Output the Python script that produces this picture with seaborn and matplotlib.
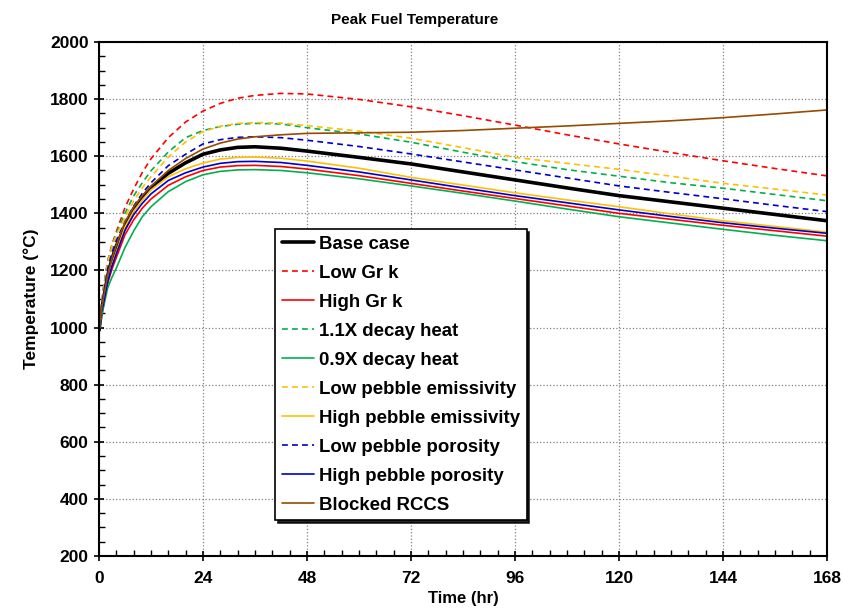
import seaborn as sns
import pandas as pd
import matplotlib.pyplot as plt
from matplotlib.ticker import MultipleLocator

# time points (hr)
hours = [0, 0.5, 1, 2, 3, 4, 6, 8, 10, 12, 16, 20, 24, 28, 32, 36, 42, 48,
         60, 72, 84, 96, 108, 120, 132, 144, 156, 168]

base_case = [990, 1050, 1095, 1180, 1240, 1285, 1355, 1415, 1455, 1490, 1540, 1577, 1607, 1622,
             1631, 1633, 1628, 1618, 1596, 1573, 1545, 1517, 1489, 1462, 1440, 1418, 1396, 1374]
low_gr_k = [990, 1065, 1135, 1232, 1290, 1335, 1420, 1485, 1543, 1591, 1665, 1720, 1758, 1785,
            1803, 1813, 1820, 1818, 1799, 1773, 1742, 1709, 1675, 1643, 1613, 1584, 1557, 1531]
high_gr_k = [990, 1045, 1075, 1155, 1205, 1245, 1325, 1377, 1418, 1450, 1498, 1528, 1550, 1562,
             1567, 1568, 1564, 1555, 1532, 1505, 1478, 1452, 1426, 1400, 1379, 1358, 1339, 1320]
decay_11 = [990, 1065, 1132, 1230, 1285, 1330, 1400, 1461, 1507, 1549, 1615, 1665, 1690, 1704,
            1712, 1715, 1713, 1700, 1678, 1649, 1614, 1581, 1553, 1530, 1507, 1488, 1466, 1444]
decay_09 = [990, 1035, 1068, 1138, 1176, 1208, 1280, 1338, 1388, 1423, 1476, 1511, 1535, 1547,
            1552, 1553, 1550, 1542, 1521, 1496, 1470, 1443, 1415, 1388, 1366, 1344, 1323, 1304]
low_emis = [990, 1062, 1128, 1228, 1283, 1325, 1385, 1443, 1490, 1528, 1597, 1650, 1686, 1705,
            1715, 1718, 1716, 1707, 1688, 1663, 1630, 1596, 1575, 1554, 1530, 1505, 1485, 1464]
high_emis = [990, 1050, 1085, 1165, 1222, 1265, 1352, 1407, 1447, 1482, 1528, 1556, 1576, 1590,
             1596, 1597, 1593, 1583, 1558, 1526, 1499, 1472, 1447, 1423, 1398, 1374, 1354, 1334]
low_poro = [990, 1060, 1115, 1205, 1262, 1305, 1370, 1425, 1470, 1507, 1567, 1607, 1643, 1658,
            1666, 1668, 1665, 1656, 1634, 1608, 1580, 1552, 1524, 1496, 1473, 1451, 1428, 1406]
high_poro = [990, 1048, 1080, 1160, 1215, 1258, 1340, 1395, 1435, 1468, 1515, 1542, 1562, 1575,
             1581, 1582, 1578, 1568, 1545, 1517, 1489, 1462, 1437, 1412, 1389, 1367, 1348, 1330]
blocked_rccs = [990, 1055, 1100, 1185, 1242, 1288, 1370, 1422, 1462, 1495, 1550, 1592, 1625, 1646,
                1660, 1668, 1675, 1680, 1682, 1684, 1690, 1698, 1706, 1715, 1724, 1735, 1748, 1762]

labels = ['Base case', 'Low Gr k', 'High Gr k', '1.1X decay heat', '0.9X decay heat',
          'Low pebble emissivity', 'High pebble emissivity', 'Low pebble porosity',
          'High pebble porosity', 'Blocked RCCS']
series = [base_case, low_gr_k, high_gr_k, decay_11, decay_09,
          low_emis, high_emis, low_poro, high_poro, blocked_rccs]
colors = ['black', '#FF0000', '#FF0000', '#00B050', '#00B050',
          '#FFC000', '#FFC000', '#0000CC', '#0000CC', '#964B00']
dashed = [False, True, False, True, False, True, False, True, False, False]

sns.set_theme(style="ticks")
plt.rcParams['font.family'] = ['Liberation Sans', 'DejaVu Sans']
plt.rcParams['font.weight'] = 'bold'
plt.rcParams['axes.labelweight'] = 'bold'
plt.rcParams['axes.titleweight'] = 'bold'
for key in ['text.color', 'axes.labelcolor', 'xtick.color', 'ytick.color']:
    plt.rcParams[key] = 'black'

fig = plt.figure(figsize=(8.43, 6.14), dpi=100)
ax = fig.add_axes([0.1174, 0.0945, 0.8636, 0.8371])

for lab, vals, col, dsh in zip(labels, series, colors, dashed):
    df = pd.DataFrame({'hr': hours, 'T': vals})
    lw = 2.6 if lab == 'Base case' else 1.2
    ls = (0, (3.5, 2.5)) if dsh else '-'
    sns.lineplot(data=df, x='hr', y='T', ax=ax, color=col, linewidth=lw,
                 linestyle=ls, label=lab, sort=False, estimator=None)

ax.set_xlim(0, 168)
ax.set_ylim(200, 2000)
ax.xaxis.set_major_locator(MultipleLocator(24))
ax.xaxis.set_minor_locator(MultipleLocator(4))
ax.yaxis.set_major_locator(MultipleLocator(200))
ax.yaxis.set_minor_locator(MultipleLocator(50))
ax.tick_params(which='major', direction='inout', length=7, width=1.2, labelsize=12.5,
               colors='black', pad=4)
ax.tick_params(axis='x', which='major', pad=7)
ax.tick_params(which='minor', direction='in', length=4, width=1.0)
ax.grid(which='major', color='#808080', linestyle=':', linewidth=0.9)
for sp in ax.spines.values():
    sp.set_color('black')
    sp.set_linewidth(1.5)
for lbl in ax.get_xticklabels() + ax.get_yticklabels():
    lbl.set_fontweight('bold')

ax.text(0.434, 1.03, 'Peak Fuel Temperature', transform=ax.transAxes, ha='center',
        va='bottom', fontsize=11, fontweight='bold')
ax.set_xlabel('Time (hr)', fontsize=12, fontweight='bold', labelpad=4)
ax.set_ylabel('Temperature (°C)', fontsize=12.5, fontweight='bold', labelpad=8)

leg = ax.legend(loc='upper left', bbox_to_anchor=(0.242, 0.636), borderaxespad=0,
                fancybox=False, shadow={'color': 'black', 'alpha': 0.85},
                edgecolor='black', framealpha=1,
                prop={'weight': 'bold', 'size': 13.4},
                handlelength=1.75, handletextpad=0.25, labelspacing=0.645,
                borderpad=0.35)
leg.get_frame().set_linewidth(1.2)

fig.savefig('out.png', dpi=100)
